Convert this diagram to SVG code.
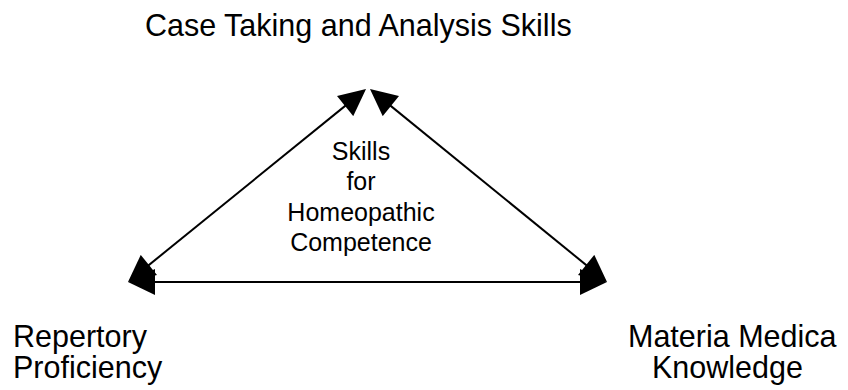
<svg xmlns="http://www.w3.org/2000/svg" width="848" height="390" viewBox="0 0 848 390">
<style>
text{font-family:"Liberation Sans",Arial,sans-serif;fill:#000}
.big{font-size:30.5px}
.mid{font-size:25px;text-anchor:middle}
.conn{stroke:#000;stroke-width:2;fill:none}
</style>
<defs>
<marker id="ah" markerUnits="userSpaceOnUse" markerWidth="28" markerHeight="26" viewBox="0 0 27 26" refX="24" refY="13" orient="auto-start-reverse">
<path d="M0,0 L27,13 L0,26 z" fill="#000"/>
</marker>
</defs>
<rect width="848" height="390" fill="#fff"/>
<g id="connectors">
<line class="conn" x1="130.3" y1="280.1" x2="363.7" y2="90.9" marker-start="url(#ah)" marker-end="url(#ah)"/>
<line class="conn" x1="372.3" y1="90.9" x2="604.7" y2="280.1" marker-start="url(#ah)" marker-end="url(#ah)"/>
<line class="conn" x1="131" y1="282" x2="604" y2="282" marker-start="url(#ah)" marker-end="url(#ah)"/>
</g>
<g id="node-case-taking">
<text class="big" x="145" y="36">Case Taking and Analysis Skills</text>
</g>
<g id="node-center">
<text class="mid" y="160"><tspan x="361">Skills</tspan><tspan x="361" dy="30">for</tspan><tspan x="361" dy="31">Homeopathic</tspan><tspan x="361" dy="30">Competence</tspan></text>
</g>
<g id="node-repertory">
<text class="big" y="347"><tspan x="13">Repertory</tspan><tspan x="13" dy="31">Proficiency</tspan></text>
</g>
<g id="node-materia-medica">
<text class="big" y="347"><tspan x="628">Materia Medica</tspan><tspan x="652" dy="31">Knowledge</tspan></text>
</g>
</svg>
